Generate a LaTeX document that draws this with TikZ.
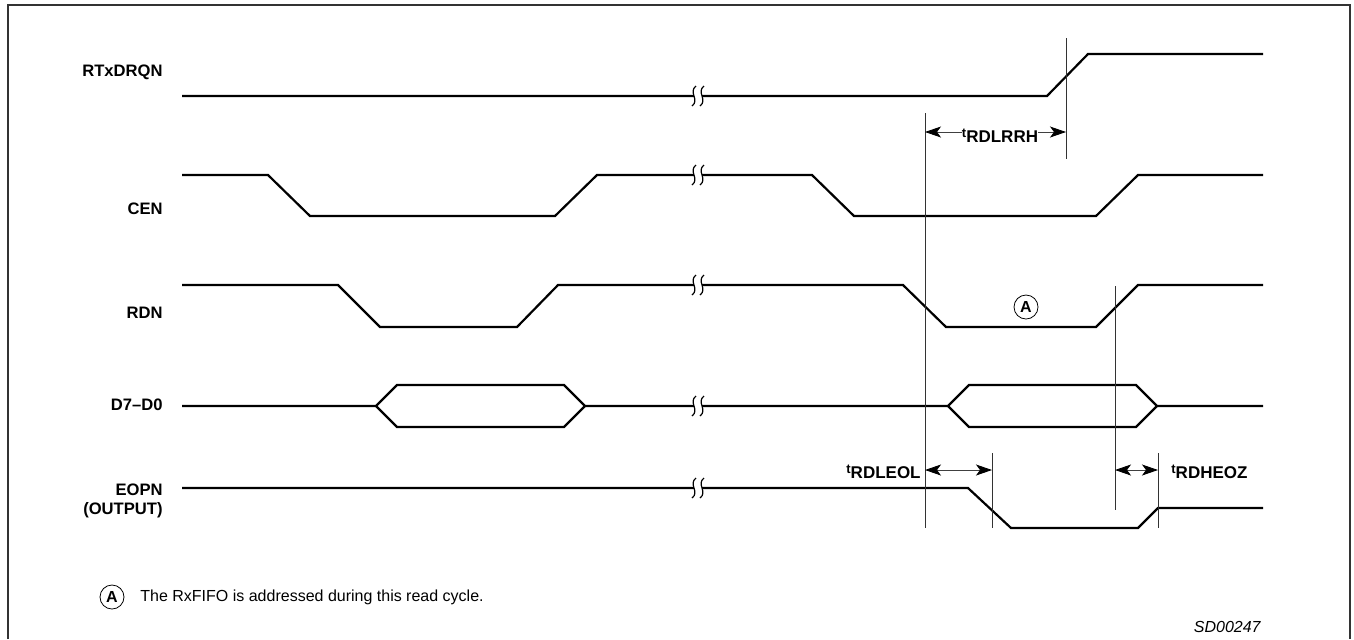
\documentclass[tikz,border=0pt]{standalone}
\usepackage{fontspec}
\setmainfont{Liberation Sans}
\usetikzlibrary{arrows.meta}
\begin{document}
\begin{tikzpicture}[x=0.5pt,y=-0.5pt,
  signal/.style={line width=1.1pt,line join=miter},
  marker/.style={line width=0.4pt,black!80},
  tarrow/.style={line width=0.4pt,black!75,-{Stealth[length=8pt,width=5.5pt,inset=2pt,black]}},
  tboth/.style={line width=0.4pt,black!75,{Stealth[length=8pt,width=5.5pt,inset=2pt,black]}-{Stealth[length=8pt,width=5.5pt,inset=2pt,black]}},
  sig name/.style={font=\fontsize{8.3}{9.5}\selectfont\bfseries,anchor=east,align=right,inner sep=0pt},
  tlabel/.style={font=\fontsize{8.5}{9}\selectfont\bfseries,inner sep=0pt,anchor=base},
  note/.style={circle,draw,line width=0.4pt,minimum size=12pt,inner sep=0pt,font=\fontsize{8}{9}\selectfont\bfseries}]
  \useasboundingbox (0,0) rectangle (1354,639);
  % frame
  \draw[line width=0.7pt,black!80] (8,639) -- (8,5) -- (1350,5) -- (1350,639);

  % signal names
  \node[sig name] (rtx)  at (163,72)  {RTxDRQN};
  \node[sig name] (cen)  at (163,209) {CEN};
  \node[sig name] (rdn)  at (163,313) {RDN};
  \node[sig name] (data) at (163,405) {D7--D0};
  \node[sig name] (eopn) at (163,501) {EOPN\\(OUTPUT)};

  % waveforms
  \draw[signal] (182,96) -- (1047,96) -- (1088,54) -- (1263,54);
  \draw[signal] (182,175) -- (268,175) -- (310,216) -- (555,216) -- (597,175)
    -- (812,175) -- (854,216) -- (1096,216) -- (1138,175) -- (1263,175);
  \draw[signal] (182,285) -- (338,285) -- (380,327) -- (517,327) -- (558,285)
    -- (903,285) -- (946,327) -- (1096,327) -- (1138,285) -- (1263,285);
  \draw[signal] (182,406) -- (376,406) -- (397,385) -- (564,385) -- (585,406)
    -- (948,406) -- (969,385) -- (1136,385) -- (1157,406) -- (1263,406);
  \draw[signal] (376,406) -- (397,427) -- (564,427) -- (585,406);
  \draw[signal] (948,406) -- (969,427) -- (1136,427) -- (1157,406);
  \draw[signal] (182,488) -- (968,488) -- (1011,528) -- (1138,528) -- (1158,508) -- (1263,508);

  % time breaks
  \foreach \y in {96,175,285,406,488} {
    \fill[white] (694,\y-5) rectangle (702,\y+5);
    \foreach \x in {694,702}
      \draw[line width=0.6pt] (\x+2,\y-10) .. controls (\x-6,\y-4) and (\x+6,\y+4) .. (\x-2,\y+10);
  }

  % reference lines
  \coordinate (m1top) at (925,113);  \coordinate (m1bot) at (925,528);
  \coordinate (m2top) at (1066,38);  \coordinate (m2bot) at (1066,159);
  \coordinate (m3top) at (992,453);  \coordinate (m3bot) at (992,528);
  \coordinate (m4top) at (1115,286); \coordinate (m4bot) at (1115,510);
  \coordinate (m5top) at (1158,453); \coordinate (m5bot) at (1158,528);
  \foreach \m in {m1,m2,m3,m4,m5}
    \draw[marker] (\m top) -- (\m bot);

  % timing parameters
  \node[tlabel] (lrrh) at (1000,142) {\raisebox{2.3pt}{\fontsize{6.5}{6}\selectfont t}RDLRRH};
  \draw[tarrow] (lrrh.west |- 0,132) -- (m1top |- 0,132);
  \draw[tarrow] (lrrh.east |- 0,132) -- (m2top |- 0,132);
  \node[tlabel,anchor=base east] (leol) at (921,478) {\raisebox{2.3pt}{\fontsize{6.5}{6}\selectfont t}RDLEOL};
  \draw[tboth] (m1top |- 0,470) -- (m3top |- 0,470);
  \node[tlabel,anchor=base west] (heoz) at (1171,478) {\raisebox{2.3pt}{\fontsize{6.5}{6}\selectfont t}RDHEOZ};
  \draw[tboth] (m4top |- 0,470) -- (m5top |- 0,470);

  % note A
  \node[note] (cycle) at (1026,307) {A};
  \node[note] (noteA) at (112,597) {A};
  \node[anchor=west,inner sep=0pt,font=\fontsize{8}{9}\selectfont] (notetext) at (140,597)
    {The RxFIFO is addressed during this read cycle.};
  \node[anchor=east,inner sep=0pt,font=\fontsize{8}{9}\selectfont\itshape] (fig) at (1261,627) {SD00247};
\end{tikzpicture}
\end{document}
